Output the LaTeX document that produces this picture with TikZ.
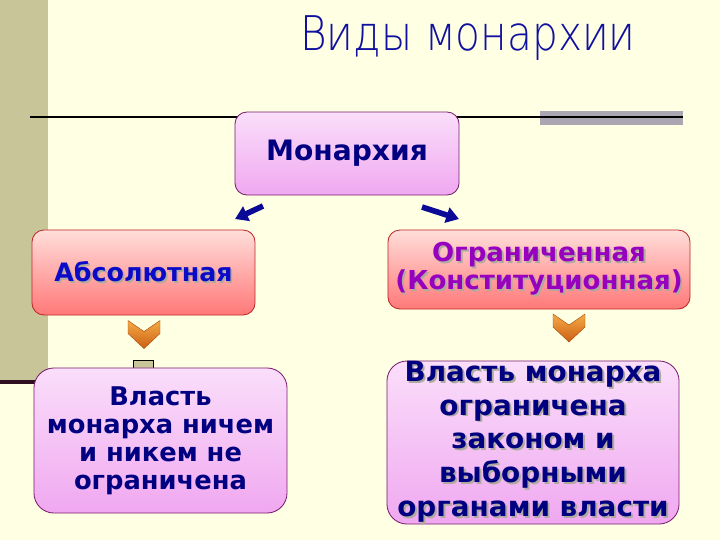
\documentclass[tikz,border=0pt]{standalone}
\usepackage{fontspec}
\setmainfont{DejaVu Sans}
\newfontfamily\titlefont{DejaVu Sans ExtraLight}
\usepackage{xcolor}
\usetikzlibrary{arrows.meta}

\definecolor{bgyellow}{RGB}{255,255,228}
\definecolor{khaki}{RGB}{200,198,152}
\definecolor{bargray}{RGB}{170,166,178}
\definecolor{darkline}{RGB}{48,16,32}
\definecolor{titleblue}{RGB}{16,16,160}
\definecolor{textnavy}{RGB}{0,0,128}
\definecolor{absblue}{RGB}{10,10,200}
\definecolor{ogrpurple}{RGB}{150,0,190}
\definecolor{pinktop}{RGB}{250,222,250}
\definecolor{pinkbot}{RGB}{240,168,240}
\definecolor{pinkborder}{RGB}{120,30,110}
\definecolor{redtop}{RGB}{255,222,218}
\definecolor{redbot}{RGB}{255,120,120}
\definecolor{redborder}{RGB}{190,40,40}
\definecolor{arrowblue}{RGB}{10,10,150}
\definecolor{chevtop}{RGB}{245,170,70}
\definecolor{chevbot}{RGB}{205,95,20}
\definecolor{shadowcol}{RGB}{175,170,160}

% строка с тенью
\newcommand{\shline}[1]{\makebox[0pt][l]{\kern0.07em\raisebox{-0.07em}{\textcolor{shadowcol}{#1}}}#1}

\begin{document}
\begin{tikzpicture}[x=0.025cm, y=-0.025cm,
    bigbox/.style={draw, line width=0.6pt, rounded corners=0.3cm, inner sep=0pt, align=center},
    pinkbox/.style={bigbox, draw=pinkborder, top color=pinktop, bottom color=pinkbot},
    redbox/.style={bigbox, draw=redborder, top color=redtop, bottom color=redbot},
    blockarrow/.style={line width=4pt, draw=arrowblue, -{Triangle[length=9pt, width=11pt]}},
    chevron/.style={draw=chevbot!80!black, line width=0.3pt, top color=chevtop, bottom color=chevbot}]

    % =================================================================
    % 1. ФОН И РАМКА
    % =================================================================
    \fill[bgyellow] (0,0) rectangle (720,540);
    \useasboundingbox (0,0) rectangle (720,540);

    % Полоса слева
    \fill[khaki] (0,0) rectangle (48,380);
    \draw[darkline, line width=3pt] (0,382) -- (200,382);

    % Серая планка и линия под заголовком
    \fill[bargray] (540,111) rectangle (683,125);
    \draw[black, line width=1.4pt] (30,117) -- (683,117);

    % Маленький квадрат над левым нижним блоком
    \draw[black, fill=khaki, line width=0.5pt] (133,360) rectangle (153,375);

    % =================================================================
    % 2. ЗАГОЛОВОК
    % =================================================================
    \node[anchor=base, text=titleblue, font=\titlefont\fontsize{34}{40}\selectfont] (title) at (468,50)
        {\scalebox{0.85}[1]{Виды монархии}};

    % =================================================================
    % 3. БЛОКИ
    % =================================================================
    \node[pinkbox, minimum width=5.6cm, minimum height=2.075cm,
          text=textnavy, font=\fontsize{20}{24}\selectfont\bfseries] (monarchy) at (347,153.5) {Монархия};

    \node[redbox, minimum width=5.575cm, minimum height=2.125cm,
          text=absblue, font=\fontsize{18}{22}\selectfont\bfseries] (absolute) at (143.5,272.5) {\shline{Абсолютная}};

    \node[redbox, minimum width=7.55cm, minimum height=1.975cm,
          text=ogrpurple, font=\fontsize{18.5}{18.5}\selectfont\bfseries] (limited) at (539,269.5)
          {\shline{Ограниченная}\\ \shline{(Конституционная)}};

    \node[pinkbox, rounded corners=0.5cm, minimum width=6.325cm, minimum height=3.625cm,
          text=textnavy, font=\fontsize{18.3}{20}\selectfont\bfseries] (absdesc) at (160.5,440.5)
          {Власть\\ монарха ничем\\ и никем не\\ ограничена};

    \node[pinkbox, rounded corners=0.5cm, minimum width=7.3cm, minimum height=4.025cm,
          text=textnavy, font=\fontsize{19.8}{24}\selectfont\bfseries] (limdesc) at (533,442.5)
          {\shline{Власть монарха}\\ \shline{ограничена}\\ \shline{законом и}\\ \shline{выборными}\\ \shline{органами власти}};

    % =================================================================
    % 4. СТРЕЛКИ
    % =================================================================
    \coordinate (LA) at (263,206);
    \coordinate (LB) at (235,219);
    \coordinate (RA) at (422,207);
    \coordinate (RB) at (459,219);
    \draw[blockarrow] (LA) -- (LB);
    \draw[blockarrow] (RA) -- (RB);

    % Оранжевые уголки вниз
    \foreach \cx/\cy in {144/334.5, 569/328} {
        \draw[chevron, shift={(\cx,\cy)}]
            (-16,-14) -- (0,-3) -- (16,-14) -- (16,-1) -- (0,14) -- (-16,-1) -- cycle;
    }

\end{tikzpicture}
\end{document}
